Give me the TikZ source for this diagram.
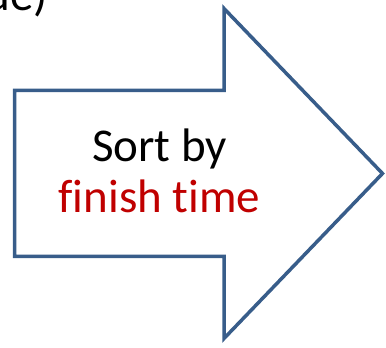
\documentclass[tikz,border=0pt]{standalone}
\usepackage{fontspec}
\setmainfont{Carlito}[Ligatures=NoCommon]
\usetikzlibrary{positioning}
\definecolor{arrowblue}{RGB}{56,93,138}
\definecolor{darkred}{RGB}{192,0,0}

\begin{document}
\begin{tikzpicture}[
    x=1pt,y=1pt,
    bigarrow/.style={draw=arrowblue,line width=3.5pt,fill=white,miter limit=10},
    label/.style={font=\fontsize{47}{51}\selectfont,inner sep=0pt,anchor=base}
]
    \useasboundingbox (0,0) rectangle (386,348);
    % cut-off text from above
    \node[label,anchor=base east] (prev) at (48,337.5) {ue)};
    % the arrow
    \draw[bigarrow] (14.5,257.5) -- (224,257.5) -- (224,339.5) -- (382.5,174.5)
        -- (224,9.5) -- (224,91.5) -- (14.5,91.5) -- cycle;
    \node[label] (sortby) at (159.5,186) {Sort by};
    \node[label,text=darkred,below=51pt of sortby.base,anchor=base] (finishtime) {finish time};
\end{tikzpicture}
\end{document}
